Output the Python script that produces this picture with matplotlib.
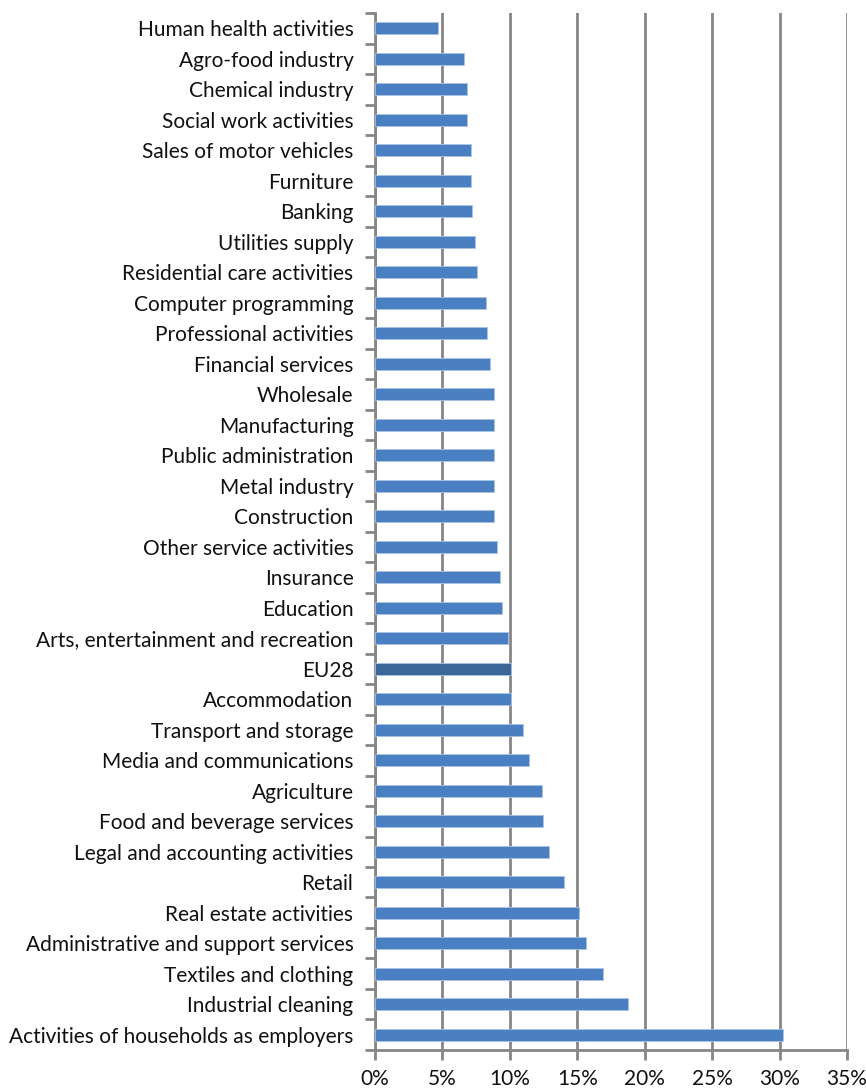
import matplotlib
matplotlib.use("Agg")
import matplotlib.pyplot as plt
import numpy as np
from matplotlib.ticker import FuncFormatter, FixedLocator

sectors = [
    "Human health activities", "Agro-food industry", "Chemical industry",
    "Social work activities", "Sales of motor vehicles", "Furniture", "Banking",
    "Utilities supply", "Residential care activities", "Computer programming",
    "Professional activities", "Financial services", "Wholesale", "Manufacturing",
    "Public administration", "Metal industry", "Construction",
    "Other service activities", "Insurance", "Education",
    "Arts, entertainment and recreation", "EU28", "Accommodation",
    "Transport and storage", "Media and communications", "Agriculture",
    "Food and beverage services", "Legal and accounting activities", "Retail",
    "Real estate activities", "Administrative and support services",
    "Textiles and clothing", "Industrial cleaning",
    "Activities of households as employers",
]
shares = [
    4.7, 6.6, 6.8, 6.8, 7.1, 7.15, 7.2, 7.45, 7.55, 8.2,
    8.3, 8.5, 8.8, 8.8, 8.8, 8.8, 8.85, 9.05, 9.25, 9.4,
    9.85, 10.05, 10.05, 11.0, 11.4, 12.35, 12.45, 12.9, 14.0, 15.15,
    15.65, 16.9, 18.8, 30.25,
]
highlight = "EU28"

plt.rcParams["font.family"] = ["Lato", "DejaVu Sans"]

fig = plt.figure(figsize=(8.66, 10.91), dpi=100)
ax = fig.add_axes([0.433, 0.0376, 0.545, 0.9504])

grid_col = "#868686"
y = np.arange(len(sectors))
colors = ["#3B6698" if s == highlight else "#4A7FC1" for s in sectors]
ax.barh(y, shares, height=0.4, color=colors, edgecolor="#A9C3E6",
        linewidth=0.6, zorder=3)

ax.set_xlim(0, 35)
ax.set_ylim(len(sectors) - 0.5, -0.5)

ax.set_xticks(np.arange(0, 36, 5))
ax.xaxis.set_major_formatter(FuncFormatter(lambda v, p: f"{v:.0f}%"))
ax.grid(axis="x", color=grid_col, linewidth=2, zorder=1)
ax.set_axisbelow(True)

# category labels at centres, tick marks at the boundaries
ax.set_yticks(y)
ax.set_yticklabels(sectors, fontsize=15, color="#111111")
ax.tick_params(axis="y", length=0, pad=15.5)
ax.yaxis.set_minor_locator(FixedLocator(np.arange(len(sectors) + 1) - 0.5))
ax.tick_params(axis="y", which="minor", length=7, width=2, color=grid_col)
ax.tick_params(axis="x", length=7, width=2, color=grid_col,
               labelsize=15, labelcolor="#111111", pad=7)

for side in ["top", "right"]:
    ax.spines[side].set_visible(False)
for side in ["left", "bottom"]:
    ax.spines[side].set_color(grid_col)
    ax.spines[side].set_linewidth(2)

fig.savefig("out.png", dpi=100)
